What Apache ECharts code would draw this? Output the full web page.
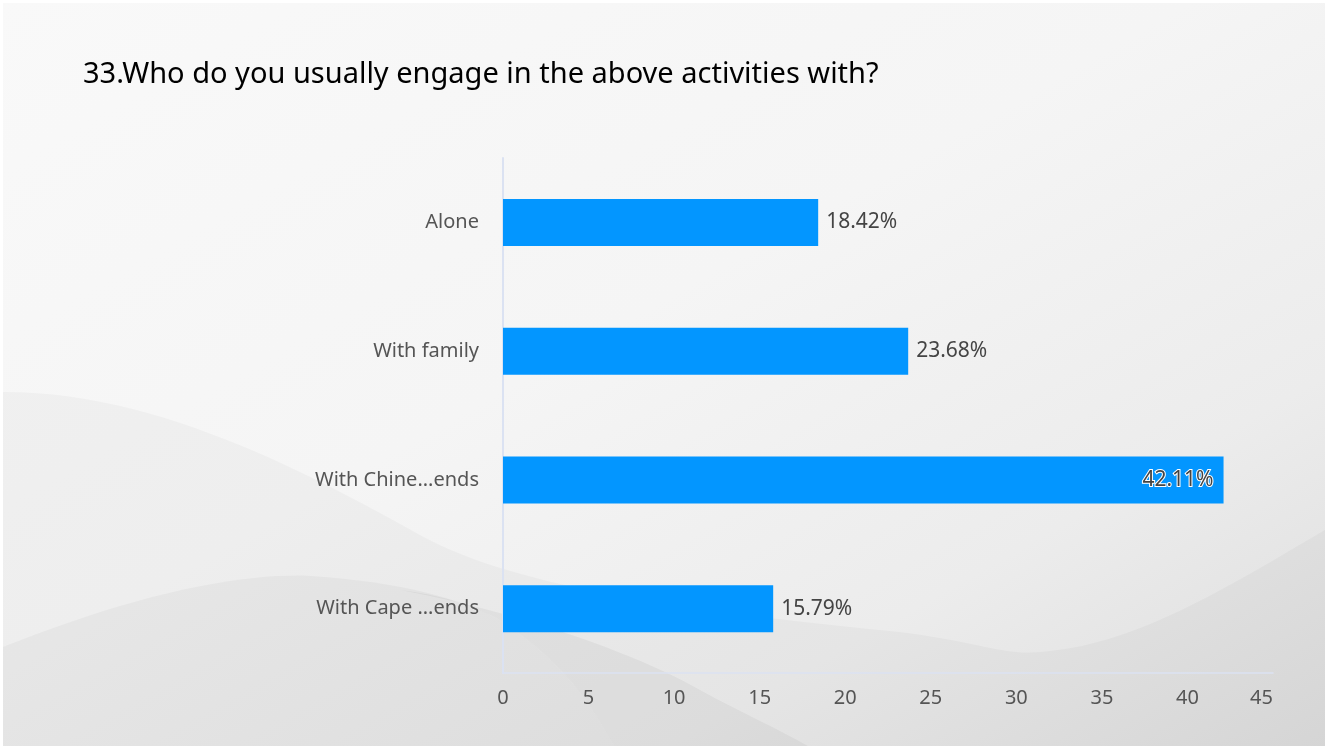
<!DOCTYPE html>
<html>
<head>
<meta charset="utf-8">
<script src="https://cdn.jsdelivr.net/npm/echarts@6/dist/echarts.min.js"></script>
<style>
  html, body { margin: 0; padding: 0; background: #f4f4f4; }
  #main {
    width: 1328px; height: 749px;
    background-repeat: no-repeat;
    background-size: 1328px 749px;
  }
</style>
</head>
<body>
<div id="main"></div>
<script>
const titleText = '33.Who do you usually engage in the above activities with?';
const categories = ['Alone', 'With family', 'With Chine...ends', 'With Cape ...ends'];
const values = [18.42, 23.68, 42.11, 15.79];
const xMin = 0;
const xMax = 45;
const xInterval = 5;

// decorative background (soft grey waves)
const bgSvg =
  '<svg xmlns="http://www.w3.org/2000/svg" width="1328" height="749" viewBox="0 0 1328 749">' +
  '<defs><linearGradient id="g" x1="0" y1="0" x2="1" y2="1">' +
  '<stop offset="0" stop-color="#f9f9f9"/><stop offset="0.45" stop-color="#f5f5f5"/>' +
  '<stop offset="0.75" stop-color="#ececec"/><stop offset="1" stop-color="#dcdcdc"/></linearGradient></defs>' +
  '<rect x="0" y="0" width="1328" height="749" fill="url(#g)"/>' +
  '<path d="M0,392 C150,390 300,468 420,535 C520,590 700,612 900,632 C980,642 1000,655 1040,652 C1130,645 1210,598 1328,528 L1328,749 L0,749 Z" fill="rgba(0,0,0,0.028)"/>' +
  '<path d="M0,648 C120,600 230,572 312,576 C400,582 460,598 500,620 C560,660 590,700 616,749 L0,749 Z" fill="rgba(0,0,0,0.03)"/>' +
  '<path d="M400,590 C520,612 640,655 700,690 C740,712 790,735 813,749 L616,749 C590,700 560,660 500,620 C470,604 440,595 400,590 Z" fill="rgba(0,0,0,0.04)"/>' +
  '<rect x="1.5" y="1.5" width="1325" height="746" fill="none" stroke="#ffffff" stroke-width="3"/>' +
  '</svg>';
document.getElementById('main').style.backgroundImage =
  'url("data:image/svg+xml;charset=utf-8,' + encodeURIComponent(bgSvg) + '")';

const maxVal = Math.max.apply(null, values);
const seriesData = values.map(function (v) {
  if (v === maxVal && v > xMax * 0.85) {
    return {
      value: v,
      label: {
        position: 'insideRight',
        distance: 10,
        color: '#444',
        textBorderColor: '#ffffff',
        textBorderWidth: 2
      }
    };
  }
  return v;
});

const chart = echarts.init(document.getElementById('main'), null, { renderer: 'canvas' });
const FONT = '"Noto Sans", "Open Sans", sans-serif';

chart.setOption({
  backgroundColor: 'transparent',
  animation: false,
  title: {
    text: titleText,
    left: 78,
    top: 55,
    textStyle: {
      fontFamily: FONT,
      fontSize: 29,
      fontWeight: 'normal',
      color: '#000'
    }
  },
  grid: {
    left: 503,
    right: 55,
    top: 158,
    bottom: 76,
    containLabel: false
  },
  xAxis: {
    type: 'value',
    min: xMin,
    max: xMax,
    interval: xInterval,
    axisLine: { show: true, lineStyle: { color: '#dbe2f2', width: 1.5 } },
    axisTick: { show: false },
    splitLine: { show: false },
    axisLabel: {
      fontFamily: FONT,
      fontSize: 20,
      color: '#555',
      margin: 15,
      alignMaxLabel: 'right'
    }
  },
  yAxis: {
    type: 'category',
    data: categories,
    inverse: true,
    axisLine: { show: true, lineStyle: { color: '#dbe2f2', width: 2 } },
    axisTick: { show: false },
    splitLine: { show: false },
    axisLabel: {
      fontFamily: FONT,
      fontSize: 20,
      color: '#555',
      margin: 24
    }
  },
  series: [{
    type: 'bar',
    data: seriesData,
    barWidth: 47,
    itemStyle: { color: '#0396ff' },
    label: {
      show: true,
      position: 'right',
      distance: 8,
      formatter: '{c}%',
      fontFamily: FONT,
      fontSize: 21,
      color: '#444'
    }
  }]
});
</script>
</body>
</html>
